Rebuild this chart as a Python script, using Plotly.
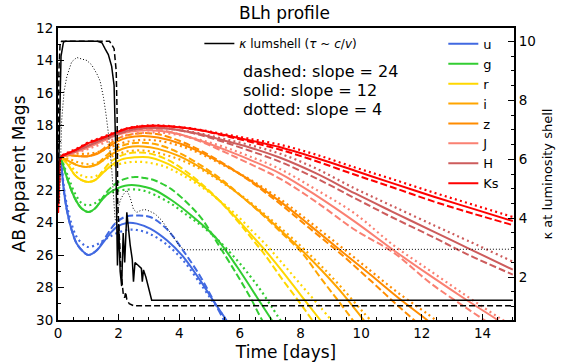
import plotly.graph_objects as go

# ---------------- data ----------------
bands = ["u", "g", "r", "i", "z", "J", "H", "Ks"]
colors = ["#4169E1", "#32CD32", "#FFD700", "#FFA500", "#FF8C00", "#FA8072", "#CD5C5C", "#FF0000"]

# u band
t_u = [0.1, 0.18, 0.29, 0.45, 0.62, 0.84, 1.0, 1.28, 1.5, 1.72, 1.94, 2.27, 2.6, 3.04, 3.59, 4.14, 4.69, 5.1, 5.55, 5.8]
u_dash = [20.0, 21.8, 23.2, 24.45, 25.3, 25.8, 26.0, 25.7, 25.1, 24.45, 23.95, 23.6, 23.56, 23.65, 24.4, 25.75, 27.3, 28.7, 30.3, 31.2]
u_sol = [20.0, 21.8, 23.2, 24.45, 25.3, 25.8, 26.0, 25.7, 25.2, 24.67, 24.26, 24.02, 24.06, 24.37, 25.09, 26.12, 27.56, 28.75, 30.0, 30.8]
u_dot = [20.0, 21.6, 22.9, 24.1, 24.9, 25.35, 25.5, 25.35, 25.1, 24.85, 24.65, 24.45, 24.45, 24.7, 25.35, 26.35, 27.75, 28.85, 30.0, 30.7]

# g band
t_g = [0.1, 0.34, 0.56, 0.78, 1.0, 1.22, 1.44, 1.66, 1.94, 2.21, 2.54, 2.87, 3.2, 3.75, 4.3, 4.74, 5.24, 5.9, 6.34, 6.7, 7.05, 7.4]
g_dash = [20.0, 21.49, 22.51, 23.13, 23.34, 23.13, 22.55, 22.0, 21.55, 21.3, 21.18, 21.25, 21.4, 21.95, 22.85, 23.75, 25.2, 27.2, 28.6, 29.9, 31.0, 32.0]
g_sol = [20.0, 21.49, 22.51, 23.13, 23.34, 23.13, 22.62, 22.2, 21.9, 21.72, 21.69, 21.8, 22.0, 22.62, 23.4, 24.1, 25.0, 26.7, 27.95, 29.0, 30.0, 31.0]
g_dot = [20.0, 21.2, 22.2, 22.8, 22.93, 22.8, 22.5, 22.2, 22.05, 21.97, 21.95, 22.05, 22.3, 22.85, 23.6, 24.2, 25.0, 26.3, 27.3, 28.2, 29.2, 30.2]

# r band
t_r = [0.1, 0.34, 0.56, 0.78, 1.0, 1.22, 1.5, 1.77, 2.1, 2.54, 2.98, 3.53, 4.08, 4.7, 5.3, 5.9, 6.4, 6.83, 7.4, 8.0, 8.65, 9.1]
r_dash = [19.95, 20.46, 21.07, 21.38, 21.49, 21.38, 20.75, 20.2, 19.85, 19.68, 19.72, 20.05, 20.65, 21.55, 22.6, 23.85, 25.0, 26.0, 27.5, 29.0, 30.7, 31.8]
r_sol = [19.95, 20.46, 21.07, 21.38, 21.49, 21.38, 20.9, 20.45, 20.1, 19.97, 19.97, 20.3, 20.85, 21.65, 22.6, 23.75, 24.8, 25.7, 27.0, 28.45, 30.0, 31.1]
r_dot = [19.95, 20.3, 20.8, 21.1, 21.2, 21.15, 20.85, 20.55, 20.35, 20.25, 20.3, 20.55, 21.05, 21.75, 22.6, 23.55, 24.5, 25.3, 26.5, 27.8, 29.2, 30.2]

# i band
t_i = [0.1, 0.4, 0.7, 1.0, 1.3, 1.6, 1.94, 2.3, 2.8, 3.3, 4.0, 4.7, 5.4, 6.1, 6.8, 7.33, 8.04, 8.7, 9.4, 10.08, 10.5]
i_dash = [19.95, 20.25, 20.5, 20.56, 20.35, 19.85, 19.4, 19.15, 19.08, 19.2, 19.7, 20.45, 21.35, 22.45, 23.6, 24.55, 25.85, 27.5, 29.2, 30.9, 31.9]
i_sol = [19.95, 20.25, 20.5, 20.56, 20.4, 20.0, 19.6, 19.35, 19.3, 19.45, 19.9, 20.6, 21.45, 22.45, 23.55, 24.45, 25.7, 26.95, 28.4, 30.0, 31.0]
i_dot = [19.95, 20.1, 20.3, 20.4, 20.3, 20.05, 19.8, 19.6, 19.55, 19.7, 20.1, 20.7, 21.5, 22.4, 23.45, 24.3, 25.5, 26.7, 28.1, 29.55, 30.4]

# z band
t_z = [0.1, 0.4, 0.7, 1.0, 1.3, 1.6, 1.94, 2.3, 2.8, 3.3, 4.0, 4.7, 5.5, 6.3, 7.33, 8.3, 9.31, 10.3, 11.2, 12.17, 12.6]
z_dash = [19.9, 19.85, 19.9, 19.9, 19.7, 19.3, 18.85, 18.6, 18.48, 18.55, 18.95, 19.55, 20.4, 21.4, 22.85, 24.35, 25.9, 27.55, 29.1, 30.7, 31.4]
z_sol = [19.9, 19.85, 19.9, 19.9, 19.75, 19.4, 19.0, 18.75, 18.65, 18.75, 19.1, 19.65, 20.45, 21.35, 22.7, 24.15, 25.7, 27.2, 28.6, 30.0, 30.7]
z_dot = [19.9, 19.75, 19.75, 19.75, 19.65, 19.45, 19.2, 19.0, 18.9, 18.95, 19.25, 19.75, 20.5, 21.3, 22.55, 23.95, 25.45, 26.95, 28.3, 29.6, 30.2]

# J band
t_J = [0.1, 0.5, 1.0, 1.5, 1.94, 2.4, 2.9, 3.4, 4.0, 4.7, 5.5, 6.3, 7.33, 8.5, 9.8, 11.07, 12.3, 13.5, 14.5, 15.2]
J_dash = [19.95, 19.7, 19.35, 18.9, 18.55, 18.33, 18.25, 18.3, 18.55, 19.0, 19.65, 20.35, 21.3, 22.7, 24.45, 25.85, 27.75, 29.3, 30.55, 31.4]
J_sol = [19.95, 19.7, 19.35, 18.95, 18.6, 18.38, 18.3, 18.35, 18.55, 18.95, 19.5, 20.1, 20.97, 22.3, 23.95, 25.7, 27.3, 28.8, 30.0, 30.9]
J_dot = [19.95, 19.75, 19.45, 19.1, 18.8, 18.55, 18.45, 18.45, 18.6, 18.9, 19.35, 19.9, 20.7, 21.95, 23.45, 25.4, 27.0, 28.55, 29.8, 30.6]

# H band
t_H = [0.03, 0.1, 0.5, 1.0, 1.5, 2.0, 2.5, 3.0, 3.5, 4.0, 4.7, 5.5, 6.3, 7.33, 8.5, 9.8, 11.0, 12.44, 13.5, 15.0]
H_dash = [21.0, 20.0, 19.65, 19.25, 18.85, 18.5, 18.25, 18.15, 18.18, 18.3, 18.6, 19.05, 19.55, 20.25, 21.25, 22.5, 23.65, 24.95, 25.95, 27.2]
H_sol = [21.0, 20.0, 19.65, 19.25, 18.85, 18.5, 18.25, 18.15, 18.18, 18.3, 18.55, 18.95, 19.35, 20.0, 20.95, 22.2, 23.3, 24.6, 25.55, 26.9]
H_dot = [21.0, 20.0, 19.65, 19.25, 18.85, 18.5, 18.25, 18.15, 18.18, 18.28, 18.5, 18.85, 19.2, 19.75, 20.65, 21.9, 22.95, 24.2, 25.1, 26.4]

# Ks band
t_Ks = [0.0, 0.04, 0.1, 0.3, 0.6, 1.0, 1.5, 1.9, 2.3, 2.8, 3.3, 4.0, 4.7, 5.5, 6.3, 7.33, 8.5, 9.8, 11.0, 12.4, 13.7, 15.0]
Ks_dash = [23.4, 21.5, 19.95, 19.75, 19.5, 19.1, 18.75, 18.45, 18.2, 18.05, 18.03, 18.12, 18.3, 18.65, 19.0, 19.5, 20.2, 21.05, 21.8, 22.7, 23.45, 24.15]
Ks_sol = [23.4, 21.5, 19.95, 19.75, 19.5, 19.1, 18.75, 18.45, 18.2, 18.05, 18.03, 18.12, 18.3, 18.6, 18.92, 19.35, 20.0, 20.8, 21.55, 22.4, 23.15, 23.9]
Ks_dot = [23.4, 21.5, 19.95, 19.7, 19.45, 19.05, 18.7, 18.4, 18.17, 18.03, 18.0, 18.1, 18.28, 18.55, 18.82, 19.2, 19.8, 20.6, 21.3, 22.15, 22.9, 23.65]

band_t = [t_u, t_g, t_r, t_i, t_z, t_J, t_H, t_Ks]
band_dash = [u_dash, g_dash, r_dash, i_dash, z_dash, J_dash, H_dash, Ks_dash]
band_sol = [u_sol, g_sol, r_sol, i_sol, z_sol, J_sol, H_sol, Ks_sol]
band_dot = [u_dot, g_dot, r_dot, i_dot, z_dot, J_dot, H_dot, Ks_dot]

# kappa at luminosity shell (right axis)
tk_sol = [0.0, 0.05, 0.1, 0.18, 0.25, 1.3, 1.45, 1.55, 1.66, 1.77, 1.85, 1.9, 1.93, 1.96, 2.0, 2.05, 2.1, 2.15, 2.2, 2.27,
          2.38, 2.45, 2.49, 2.54, 2.65, 2.75, 2.78, 2.82, 2.9, 2.98, 3.09, 15.0]
k_sol = [4.5, 7.5, 9.5, 9.97, 10.0, 10.0, 9.95, 9.75, 9.55, 9.15, 8.5, 6.5, 4.8, 2.4, 3.8, 2.2, 1.7, 3.5, 2.5, 4.2,
         3.1, 2.6, 1.85, 2.5, 2.4, 2.3, 1.85, 2.25, 2.0, 1.67, 1.22, 1.22]
tk_dash = [0.0, 0.03, 0.07, 0.12, 1.7, 1.85, 1.92, 1.95, 1.97, 2.02, 2.08, 2.15, 2.2, 2.23, 2.27, 2.35, 2.5, 15.0]
k_dash = [4.5, 9.0, 9.95, 10.0, 10.0, 9.75, 9.0, 7.5, 4.5, 3.2, 2.2, 1.45, 1.3, 1.5, 1.25, 1.1, 1.03, 1.03]
tk_dot = [0.05, 0.12, 0.2, 0.29, 0.45, 0.62, 0.78, 0.95, 1.11, 1.28, 1.39, 1.5, 1.58, 1.66, 1.77, 1.83, 1.88, 1.93,
          1.98, 2.05, 2.15, 2.27, 2.38, 2.49, 2.6, 2.7, 2.85, 3.0, 3.2, 3.42, 3.64, 3.86, 4.03, 4.19, 15.0]
k_dot = [4.5, 7.3, 8.3, 8.8, 9.3, 9.45, 9.4, 9.35, 9.2, 8.9, 8.65, 8.1, 7.55, 6.9, 5.7, 4.8, 4.0, 3.8,
         4.3, 4.6, 4.8, 4.95, 4.7, 4.3, 4.2, 4.25, 4.3, 4.25, 4.15, 3.93, 3.6, 3.25, 3.03, 2.93, 2.95]

# ---------------- figure ----------------
fig = go.Figure()
DASH = "7px,3px"
DOT = "2px,3.3px"

for name, col, tt, yd, ys, yo in zip(bands, colors, band_t, band_dash, band_sol, band_dot):
    fig.add_trace(go.Scatter(x=tt, y=yd, mode="lines", line=dict(color=col, width=2, dash=DASH, shape="spline"),
                             showlegend=False, hoverinfo="skip"))
    fig.add_trace(go.Scatter(x=tt, y=ys, mode="lines", line=dict(color=col, width=2, shape="spline"),
                             name=name, legend="legend", showlegend=True, hoverinfo="skip"))
    fig.add_trace(go.Scatter(x=tt, y=yo, mode="lines", line=dict(color=col, width=2.2, dash=DOT, shape="spline"),
                             showlegend=False, hoverinfo="skip"))

fig.add_trace(go.Scatter(x=tk_dot, y=k_dot, yaxis="y2", mode="lines", line=dict(color="black", width=1, dash="1px,2px"),
                         showlegend=False, hoverinfo="skip"))
fig.add_trace(go.Scatter(x=tk_dash, y=k_dash, yaxis="y2", mode="lines", line=dict(color="black", width=1.5, dash="6px,3px"),
                         showlegend=False, hoverinfo="skip"))
fig.add_trace(go.Scatter(x=tk_sol, y=k_sol, yaxis="y2", mode="lines", line=dict(color="black", width=1.5),
                         name="<i>κ</i> lumshell (<i>τ</i> ~ <i>c</i>/<i>v</i>)", legend="legend2",
                         showlegend=True, hoverinfo="skip"))

FONT = "DejaVu Sans, Arial, sans-serif"
axis_common = dict(showgrid=False, zeroline=False, showline=True, linecolor="black", linewidth=2,
                   ticks="inside", tickwidth=1.3, ticklen=6, tickcolor="black", automargin=False,
                   tickfont=dict(size=13.5, color="black", family=FONT))

fig.update_layout(
    template="none",
    width=569, height=362,
    margin=dict(l=58, r=55, t=28, b=42, autoexpand=False),
    paper_bgcolor="white", plot_bgcolor="white",
    font=dict(family=FONT, color="black"),
    title=dict(text="BLh profile", x=0.5, xanchor="center", y=0.965, yanchor="middle",
               font=dict(size=17, color="black", family=FONT)),
    xaxis=dict(range=[0, 15.04], dtick=2, mirror=True,
               minor=dict(dtick=0.5, ticks="inside", ticklen=3, tickcolor="black", tickwidth=1),
               title=dict(text="Time [days]", font=dict(size=17, family=FONT), standoff=6),
               **axis_common),
    yaxis=dict(range=[30, 12], dtick=2,
               minor=dict(dtick=1, ticks="inside", ticklen=3, tickcolor="black", tickwidth=1),
               title=dict(text="AB Apparent Mags", font=dict(size=17, family=FONT), standoff=6),
               **axis_common),
    yaxis2=dict(range=[0.55, 10.45], dtick=2, overlaying="y", side="right",
                minor=dict(dtick=0.5, ticks="inside", ticklen=3, tickcolor="black", tickwidth=1),
                title=dict(text="κ at luminosity shell", font=dict(size=13, family=FONT), standoff=8),
                **axis_common),
    legend=dict(x=0.845, y=0.997, xanchor="left", yanchor="top", bgcolor="rgba(0,0,0,0)",
                font=dict(size=13, family=FONT), itemwidth=30, tracegroupgap=0),
    legend2=dict(x=0.31, y=0.997, xanchor="left", yanchor="top", bgcolor="rgba(0,0,0,0)",
                 font=dict(size=12, family=FONT), itemwidth=30),
    annotations=[
        dict(text="dashed: slope = 24", xref="paper", yref="paper", x=0.402, y=1 - (72 - 28) / 292,
             xanchor="left", yanchor="middle", showarrow=False, font=dict(size=16, family=FONT)),
        dict(text="solid: slope = 12", xref="paper", yref="paper", x=0.402, y=1 - (90.5 - 28) / 292,
             xanchor="left", yanchor="middle", showarrow=False, font=dict(size=16, family=FONT)),
        dict(text="dotted: slope = 4", xref="paper", yref="paper", x=0.402, y=1 - (109 - 28) / 292,
             xanchor="left", yanchor="middle", showarrow=False, font=dict(size=16, family=FONT)),
    ],
)

fig.write_html("out.html")
